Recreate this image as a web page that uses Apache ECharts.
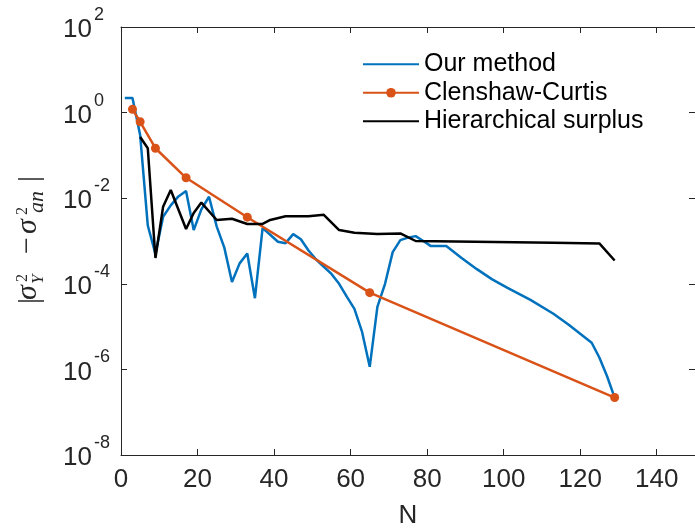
<!DOCTYPE html>
<html><head><meta charset="utf-8">
<script src="https://cdn.jsdelivr.net/npm/echarts@6/dist/echarts.min.js"></script>
<style>html,body{margin:0;padding:0;background:#fff}#c{width:695px;height:529px}</style>
</head><body><div id="c"></div>
<script>
// ---- data ----
const blueN = [1,3,5,7,9,11,13,15,17,19,21,23,25,27,29,31,33,35,37,39,41,43,45,47,49,51,53,55,57,59,61,63,65,67,69,71,73,75,77,79,81,85,89,93,97,101,107,113,117,123,125,127,129];
const blueV = [2.2,2.2,0.3,0.0023,5e-4,0.0037,0.0068,0.011,0.0148,0.0018,0.0055,0.0108,0.0022,7e-4,1.1e-4,3e-4,5.1e-4,4.6e-5,0.002,0.0014,9.6e-4,8.9e-4,0.00145,0.0011,6e-4,3.7e-4,2.5e-4,1.7e-4,1e-4,5e-5,2.6e-5,7.5e-6,1.15e-6,2.9e-5,1e-4,5.5e-4,1.05e-3,1.2e-3,1.3e-3,1.0e-3,7.6e-4,7.6e-4,4e-4,2.2e-4,1.27e-4,8e-5,4.2e-5,2e-5,1.1e-5,4.2e-6,1.9e-6,7e-7,2.2e-7];
const ccN = [3,5,9,17,33,65,129];
const ccV = [1.2,0.61,0.147,0.030,0.0036,6.2e-5,2.2e-7];
const hsN = [5,7,9,11,13,17,19,21,25,29,33,37,39,43,49,53,57,61,67,73,77,113,125,129];
const hsV = [0.27,0.147,4e-4,0.0063,0.0155,0.0019,0.0045,0.0079,0.0031,0.0033,0.0025,0.0025,0.0031,0.0038,0.0038,0.0041,0.0018,0.00156,0.00146,0.0015,0.001,0.00091,0.00088,3.5e-4];
const seriesNames = ['Our method','Clenshaw-Curtis','Hierarchical surplus'];
const xTickMin = 0, xTickMax = 150, xTickStep = 20;
const yMin = 1e-8, yMax = 1e2;

const pair = (xs, ys) => xs.map((x, i) => [x, ys[i]]);
const axisColor = '#262626';
const font = '"Liberation Sans", Arial, Helvetica, sans-serif';
const serif = '"Liberation Serif", "DejaVu Serif", serif';

const lineAxis = {lineStyle: {color: axisColor, width: 1}, onZero: false};
const tick = {inside: true, length: 6, lineStyle: {color: axisColor, width: 1}};

// y-axis title pieces: [text, localX, localY, fontSize, italic]
const yTitle = [
  ['|', -64, 0, 30, false],
  ['σ', -60, -2, 30, true],
  ['2', -42, -7.4, 16, false],
  ['Y', -44, 8.2, 17, true],
  ['−', -14, -2, 30, false],
  ['σ', 6, -2, 30, true],
  ['2', 25, -7.4, 16, false],
  ['an', 27, 7.5, 22, true],
  ['|', 58, 0, 30, false]
];

const chart = echarts.init(document.getElementById('c'));
chart.setOption({
  backgroundColor: '#ffffff',
  animation: false,
  grid: {left: 121, top: 27, right: 0, bottom: 74, containLabel: false, outerBoundsMode: 'none'},
  legend: {
    show: true, orient: 'vertical', left: 362, top: 50, padding: 0,
    itemWidth: 56, itemHeight: 12, itemGap: 0, selectedMode: false,
    textStyle: {fontFamily: font, fontSize: 25, color: '#000', lineHeight: 28.5},
    data: [
      {name: seriesNames[0], itemStyle: {opacity: 0}},
      {name: seriesNames[1]},
      {name: seriesNames[2], itemStyle: {opacity: 0}}
    ]
  },
  graphic: [{
    type: 'group', x: 30, y: 240, rotation: Math.PI / 2, silent: true,
    children: yTitle.map(p => ({
      type: 'text', x: p[1], y: p[2],
      style: {text: p[0], fontSize: p[3], fontFamily: serif, fontStyle: p[4] ? 'italic' : 'normal',
              fill: axisColor, align: 'left', verticalAlign: 'middle'}
    }))
  }],
  xAxis: [{
    type: 'value', min: xTickMin, max: xTickMax, interval: xTickStep, position: 'bottom',
    axisLine: lineAxis, axisTick: tick, splitLine: {show: false},
    axisLabel: {showMaxLabel: false, color: axisColor, fontSize: 26, fontFamily: font, margin: 12},
    name: 'N', nameLocation: 'middle', nameGap: 48,
    nameTextStyle: {fontSize: 26, fontFamily: font, color: axisColor}
  }, {
    type: 'value', min: xTickMin, max: xTickMax, interval: xTickStep, position: 'top',
    axisLine: lineAxis, axisTick: tick, splitLine: {show: false}, axisLabel: {show: false}
  }],
  yAxis: [{
    type: 'log', logBase: 100, min: yMin, max: yMax, position: 'left',
    axisLine: lineAxis, axisTick: tick, splitLine: {show: false}, minorTick: {show: false},
    axisLabel: {
      margin: 58, align: 'left', padding: [6, 0, 0, 0],
      formatter: v => '{b|10}{s|' + Math.round(Math.log10(v)) + '}',
      rich: {
        b: {fontSize: 26, fontFamily: font, color: axisColor, padding: [0, 0, 0, 0]},
        s: {fontSize: 18, fontFamily: font, color: axisColor, padding: [0, 0, 30, 2]}
      }
    }
  }, {
    type: 'log', logBase: 100, min: yMin, max: yMax, position: 'right',
    axisLine: lineAxis, axisTick: tick, splitLine: {show: false}, axisLabel: {show: false}
  }],
  series: [{
    name: seriesNames[0], type: 'line', data: pair(blueN, blueV), symbol: 'none',
    lineStyle: {color: '#0072BD', width: 2.5}, itemStyle: {color: '#0072BD'}, z: 3
  }, {
    name: seriesNames[1], type: 'line', data: pair(ccN, ccV), symbol: 'circle', symbolSize: 9,
    lineStyle: {color: '#D95319', width: 2.5}, itemStyle: {color: '#D95319'}, z: 4
  }, {
    name: seriesNames[2], type: 'line', data: pair(hsN, hsV), symbol: 'none',
    lineStyle: {color: '#000000', width: 2.5}, itemStyle: {color: '#000000'}, z: 5
  }]
});
</script></body></html>
